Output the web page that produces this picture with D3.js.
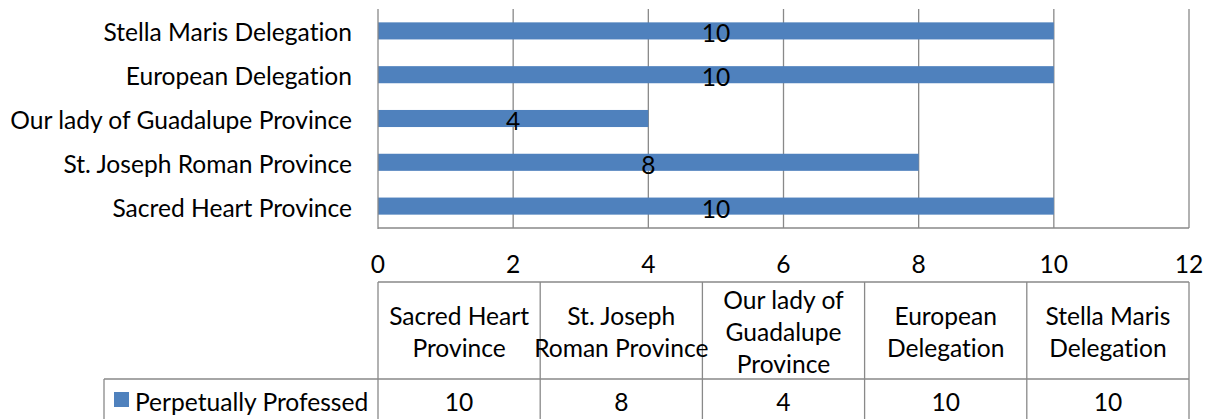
<!DOCTYPE html>
<html lang="en">
<head>
    <meta charset="UTF-8">
    <title>Perpetually Professed</title>
    <script src="https://d3js.org/d3.v7.min.js"></script>
    <style>
        body {
            margin: 0;
            padding: 0;
            background: #fff;
        }
        svg text {
            font-family: Lato, "Open Sans", sans-serif;
            font-variant-ligatures: none;
            fill: #000;
        }
    </style>
</head>
<body>
    <svg id="chart" width="1212" height="419"></svg>

    <script>
        // Data
        const categories = [
            'Sacred Heart Province',
            'St. Joseph Roman Province',
            'Our lady of Guadalupe Province',
            'European Delegation',
            'Stella Maris Delegation'
        ];
        const headerLines = [
            ['Sacred Heart', 'Province'],
            ['St. Joseph', 'Roman Province'],
            ['Our lady of', 'Guadalupe', 'Province'],
            ['European', 'Delegation'],
            ['Stella Maris', 'Delegation']
        ];
        const seriesName = 'Perpetually Professed';
        const values = [10, 8, 4, 10, 10];
        const xTicks = [0, 2, 4, 6, 8, 10, 12];

        const barColor = '#4f81bd';
        const lineColor = '#898989';

        const svg = d3.select('#chart');

        // pick a font size so the longest category label is as wide as in the original (~342px)
        const probe = svg.append('text').style('font-size', '26px').text(categories[2]);
        const fontSize = Math.min(26, 26 * 342 / probe.node().getComputedTextLength());
        probe.remove();

        // plot area
        const plot = { left: 378, right: 1189, top: 9, bottom: 228 };

        const x = d3.scaleLinear()
            .domain([0, 12])
            .range([plot.left, plot.right]);

        // first category at the bottom, like Excel bar charts
        const y = d3.scaleBand()
            .domain(categories.slice().reverse())
            .range([plot.top, plot.bottom])
            .paddingInner(0.61)
            .paddingOuter(0.305);

        // vertical gridlines
        svg.append('g')
            .selectAll('line')
            .data(xTicks.slice(1))
            .join('line')
            .attr('x1', d => x(d))
            .attr('x2', d => x(d))
            .attr('y1', plot.top)
            .attr('y2', plot.bottom)
            .attr('stroke', lineColor)
            .attr('stroke-width', 1.3);

        // bars
        svg.append('g')
            .selectAll('rect')
            .data(categories)
            .join('rect')
            .attr('x', x(0))
            .attr('y', d => y(d))
            .attr('width', (d, i) => x(values[i]) - x(0))
            .attr('height', y.bandwidth())
            .attr('fill', barColor);

        // axis lines
        svg.append('line')
            .attr('x1', plot.left).attr('x2', plot.left)
            .attr('y1', plot.top).attr('y2', plot.bottom + 1)
            .attr('stroke', lineColor).attr('stroke-width', 1.3);
        svg.append('line')
            .attr('x1', plot.left).attr('x2', plot.right)
            .attr('y1', plot.bottom).attr('y2', plot.bottom)
            .attr('stroke', lineColor).attr('stroke-width', 1.3);

        // data labels centred in the bars
        svg.append('g')
            .selectAll('text')
            .data(categories)
            .join('text')
            .attr('x', (d, i) => x(values[i] / 2))
            .attr('y', d => y(d) + y.bandwidth() / 2 + 2)
            .attr('text-anchor', 'middle')
            .attr('dominant-baseline', 'central')
            .style('font-size', fontSize + 'px')
            .text((d, i) => values[i]);

        // category labels
        svg.append('g')
            .selectAll('text')
            .data(categories)
            .join('text')
            .attr('x', plot.left - 26)
            .attr('y', d => y(d) + y.bandwidth() / 2 + 1)
            .attr('text-anchor', 'end')
            .attr('dominant-baseline', 'central')
            .style('font-size', fontSize + 'px')
            .text(d => d);

        // x tick labels
        svg.append('g')
            .selectAll('text')
            .data(xTicks)
            .join('text')
            .attr('x', d => x(d))
            .attr('y', 263)
            .attr('text-anchor', 'middle')
            .attr('dominant-baseline', 'central')
            .style('font-size', fontSize + 'px')
            .text(d => d);

        // data table
        const table = { top: 282, mid: 379, bottom: 420, legendLeft: 104 };
        const colX = d3.scaleBand()
            .domain(categories)
            .range([plot.left, plot.right]);

        const grid = svg.append('g')
            .attr('stroke', lineColor)
            .attr('stroke-width', 1.3);

        grid.append('line')
            .attr('x1', plot.left).attr('x2', plot.right)
            .attr('y1', table.top).attr('y2', table.top);
        grid.append('line')
            .attr('x1', table.legendLeft).attr('x2', plot.right)
            .attr('y1', table.mid).attr('y2', table.mid);
        grid.append('line')
            .attr('x1', table.legendLeft).attr('x2', table.legendLeft)
            .attr('y1', table.mid).attr('y2', table.bottom);
        grid.selectAll('line.col')
            .data(categories.map(c => colX(c)).concat([plot.right]))
            .join('line')
            .attr('class', 'col')
            .attr('x1', d => d).attr('x2', d => d)
            .attr('y1', table.top).attr('y2', table.bottom);

        // header cells
        const lineHeight = 32;
        svg.append('g')
            .selectAll('text')
            .data(categories)
            .join('text')
            .attr('text-anchor', 'middle')
            .style('font-size', fontSize + 'px')
            .each(function (d, i) {
                const lines = headerLines[i];
                const cx = colX(d) + colX.bandwidth() / 2;
                const cy = (table.top + table.mid) / 2 + 1;
                const start = cy - (lines.length - 1) * lineHeight / 2;
                d3.select(this).selectAll('tspan')
                    .data(lines)
                    .join('tspan')
                    .attr('x', cx)
                    .attr('y', (l, j) => start + j * lineHeight)
                    .attr('dominant-baseline', 'central')
                    .text(l => l);
            });

        // value cells
        svg.append('g')
            .selectAll('text')
            .data(categories)
            .join('text')
            .attr('x', d => colX(d) + colX.bandwidth() / 2)
            .attr('y', 401)
            .attr('text-anchor', 'middle')
            .attr('dominant-baseline', 'central')
            .style('font-size', fontSize + 'px')
            .text((d, i) => values[i]);

        // legend key in the row header
        svg.append('rect')
            .attr('x', 114)
            .attr('y', 392)
            .attr('width', 15)
            .attr('height', 15)
            .attr('fill', barColor);
        svg.append('text')
            .attr('x', 135)
            .attr('y', 401)
            .attr('dominant-baseline', 'central')
            .style('font-size', fontSize + 'px')
            .text(seriesName);
    </script>
</body>
</html>
